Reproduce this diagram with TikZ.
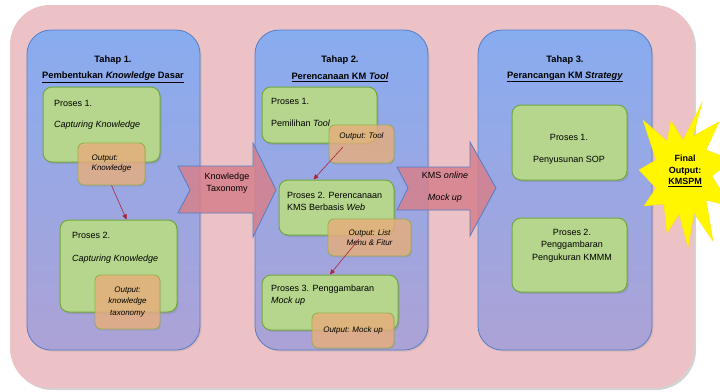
\documentclass[tikz,border=0pt]{standalone}
\usepackage{fontspec}
\setmainfont{Liberation Sans}
\usetikzlibrary{shadows, arrows.meta}

\definecolor{bgPink}{RGB}{236,194,199}
\definecolor{panelTop}{RGB}{136,172,240}
\definecolor{panelBot}{RGB}{172,162,214}
\definecolor{panelLine}{RGB}{82,126,200}
\definecolor{boxGreen}{RGB}{181,214,140}
\definecolor{boxGreenLine}{RGB}{112,168,62}
\definecolor{outOrange}{RGB}{236,176,124}
\definecolor{outLine}{RGB}{150,172,72}
\definecolor{arrowPink}{RGB}{214,128,140}
\definecolor{linkRed}{RGB}{172,36,58}
\definecolor{starYellow}{RGB}{255,246,0}

\begin{document}
\begin{tikzpicture}[x=1pt, y=-1pt, font=\fontsize{9}{11}\selectfont]
        % 스타일 정의
        \tikzset{panel/.style={draw=panelLine, line width=0.8pt, rounded corners=24pt, top color=panelTop, bottom color=panelBot, minimum width=173pt, minimum height=320pt, drop shadow={opacity=0.2, shadow xshift=1.5pt, shadow yshift=-1.5pt}}}
        \tikzset{proc/.style={draw=boxGreenLine, fill=boxGreen, line width=1pt, rounded corners=9pt, drop shadow={opacity=0.3, shadow xshift=1.5pt, shadow yshift=-2pt}}}
        \tikzset{outbox/.style={draw=outLine, fill=outOrange, fill opacity=0.78, draw opacity=0.9, text opacity=1, line width=0.9pt, rounded corners=6pt, align=center, font=\fontsize{8}{10}\selectfont\itshape, drop shadow={opacity=0.2, shadow xshift=1pt, shadow yshift=-1.5pt}}}
        \tikzset{ptext/.style={inner sep=0pt, font=\fontsize{9}{11}\selectfont}}
        \tikzset{title/.style={inner sep=0pt, font=\fontsize{9.3}{11}\selectfont\bfseries}}
        \tikzset{bigarrow/.style={fill=arrowPink, fill opacity=0.85, draw=panelLine, line width=0.8pt}}
        \tikzset{link/.style={draw=linkRed, line width=0.6pt, -{Triangle[length=5pt, width=4.5pt]}}}

        \useasboundingbox (0,0) rectangle (720,391);

        % 1. 바탕
        \fill[bgPink, rounded corners=40pt, drop shadow={opacity=0.35, shadow xshift=2pt, shadow yshift=-2pt}] (10,5) rectangle (694,388);

        % 2. 단계 패널
        \node[panel] (tahap1) at (113.5,190) {};
        \node[panel] (tahap2) at (341.5,190) {};
        \node[panel, minimum width=174pt] (tahap3) at (565,190) {};

        \node[title] (judul1) at (113,60) {Tahap 1.};
        \node[title] (sub1) at (113,77) {\underline{Pembentukan \textit{Knowledge} Dasar}};
        \node[title] (judul2) at (340,60) {Tahap 2.};
        \node[title] (sub2) at (340,77) {\underline{Perencanaan KM \textit{Tool}}};
        \node[title] (judul3) at (565,60) {Tahap 3.};
        \node[title] (sub3) at (565,77) {\underline{Perancangan KM \textit{Strategy}}};

        % 3. 큰 화살표
        \draw[bigarrow] (178,166) -- (253,166) -- (253,143) -- (276,190) -- (253,237) -- (253,213) -- (178,213) -- (190,190) -- cycle;
        \draw[bigarrow] (397,167) -- (470,167) -- (470,142) -- (496,188) -- (470,236) -- (470,210) -- (397,210) -- (408,188) -- cycle;
        \node[ptext, align=center, font=\fontsize{9}{12}\selectfont] (taxo) at (227,183) {Knowledge\\Taxonomy};
        \node[ptext, align=center] (mock) at (445,187) {KMS \textit{online}\\[11pt]\textit{Mock up}};

        % 4. 프로세스 (Tahap 1)
        \node[proc, minimum width=117pt, minimum height=75pt] (p11) at (101.5,124.5) {};
        \node[ptext, anchor=west, align=left] at (54,114.5) {Proses 1.\\[10pt]\textit{Capturing Knowledge}};
        \node[outbox, minimum width=67pt, minimum height=42pt, align=left] (o11) at (111.5,164) {Output:\\Knowledge};
        \node[proc, minimum width=117pt, minimum height=92pt] (p12) at (118.5,266) {};
        \node[ptext, anchor=west, align=left] at (72,247.5) {Proses 2.\\[12pt]\textit{Capturing Knowledge}};
        \node[outbox, minimum width=65pt, minimum height=54pt, font=\fontsize{8}{11.5}\selectfont\itshape] (o12) at (127.5,302) {Output:\\knowledge\\taxonomy};

        % 5. 프로세스 (Tahap 2)
        \node[proc, minimum width=115pt, minimum height=56pt] (p21) at (319.5,115) {};
        \node[ptext, anchor=west, align=left] at (271,112) {Proses 1.\\[11pt]Pemilihan \textit{Tool}};
        \node[outbox, minimum width=65pt, minimum height=38pt] (o21) at (361.5,144) {Output: Tool\\[6pt]};
        \node[proc, minimum width=115pt, minimum height=55pt] (p22) at (336.5,207.5) {};
        \node[ptext, anchor=west, align=left] at (287,201) {Proses 2. Perencanaan\\[1pt]KMS Berbasis \textit{Web}};
        \node[outbox, minimum width=83pt, minimum height=37pt] (o22) at (369.5,237.5) {Output: List\\Menu \& Fitur};
        \node[proc, minimum width=136pt, minimum height=55pt] (p23) at (330,302.5) {};
        \node[ptext, anchor=west, align=left] at (271,295) {Proses 3. Penggambaran\\[1pt]\textit{Mock up}};
        \node[outbox, minimum width=82pt, minimum height=35pt] (o23) at (353,330.5) {Output: Mock up};

        % 6. 프로세스 (Tahap 3)
        \node[proc, minimum width=115pt, minimum height=75pt] (p31) at (569.5,142.5) {};
        \node[ptext, align=center] at (569,149) {Proses 1.\\[11pt]Penyusunan SOP};
        \node[proc, minimum width=115pt, minimum height=74pt] (p32) at (569.5,255) {};
        \node[ptext, align=center] at (572,245.5) {Proses 2.\\[1.5pt]Penggambaran\\[1.5pt]Pengukuran KMMM};

        % 7. 연결 화살표
        \coordinate (s21) at (343,147);
        \coordinate (s22) at (359,239);
        \draw[link] (o11.south) -- ([xshift=8pt]p12.north);
        \draw[link] (s21) -- ([xshift=-23pt]p22.north);
        \draw[link] (s22) -- (p23.north);

        % 8. 최종 결과 (별 모양)
        \fill[starYellow, draw=starYellow!85!orange, line width=0.4pt] plot coordinates {(702,103) (693,136) (719,122) (706,150) (732,160) (712,176) (730,206) (706,200) (713,241) (694,213) (688,247) (679,214) (667,233) (664,204) (644,206) (656,188) (639,170) (656,160) (643,120) (667,141) (671,121) (683,140)} -- cycle;
        \node[ptext, align=center, font=\fontsize{9}{11.5}\selectfont\bfseries] (final) at (685,171) {Final\\Output:\\\underline{KMSPM}};
    \end{tikzpicture}
\end{document}
